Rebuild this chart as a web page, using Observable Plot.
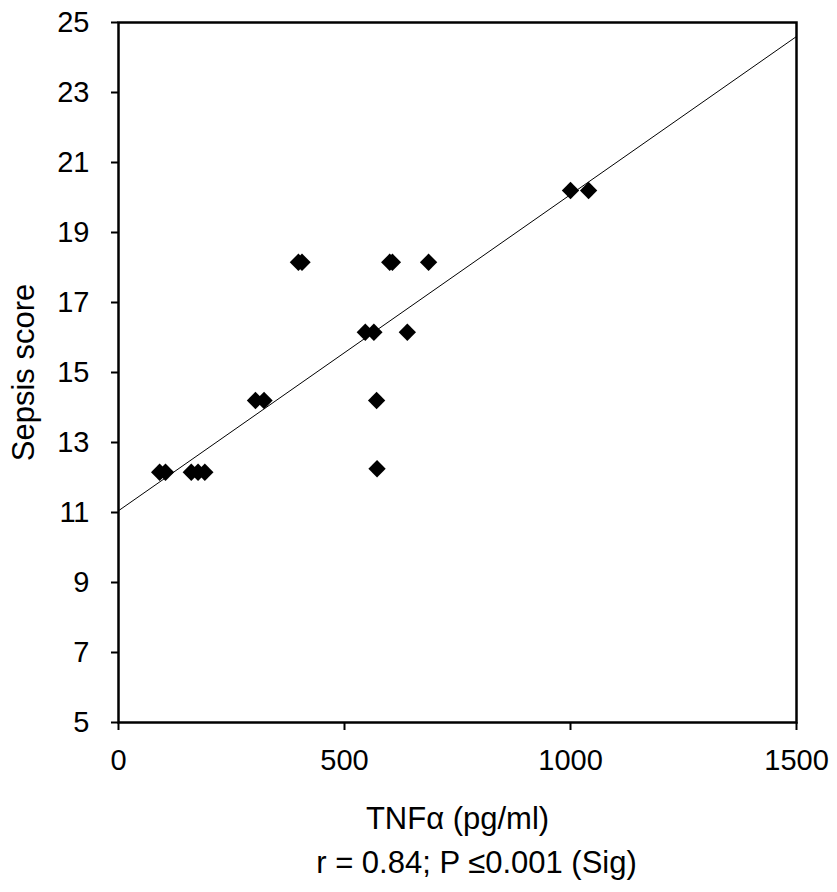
<!DOCTYPE html>
<html>
<head>
<meta charset="utf-8">
<script src="https://cdn.jsdelivr.net/npm/d3@7"></script>
<script src="https://cdn.jsdelivr.net/npm/@observablehq/plot@0.6"></script>
<style>
  html, body { margin: 0; padding: 0; background: #fff; }
</style>
</head>
<body>
<div id="chart"></div>
<script>
// Data
const tnf   = [91, 104, 161, 176, 191, 303, 322, 398, 406, 600, 606, 686, 546, 565, 639, 571, 572, 1000, 1040];
const score = [12.15, 12.15, 12.15, 12.15, 12.15, 14.2, 14.2, 18.15, 18.15, 18.15, 18.15, 18.15, 16.15, 16.15, 16.15, 14.2, 12.25, 20.2, 20.2];

// Regression line end points
const fitX = [0, 1500];
const fitY = [11.05, 24.6];

// Tick values
const xTicks = [0, 500, 1000, 1500];
const yTicks = [5, 7, 9, 11, 13, 15, 17, 19, 21, 23, 25];

const xLabel = "TNFα (pg/ml)";
const yLabel = "Sepsis score";
const caption = "r = 0.84; P ≤0.001 (Sig)";

const points = tnf.map((x, i) => ({x, y: score[i]}));
const fit = fitX.map((x, i) => ({x, y: fitY[i]}));

const chart = Plot.plot({
  width: 837,
  height: 892,
  marginLeft: 118,
  marginRight: 41,
  marginTop: 22,
  marginBottom: 170,
  x: {domain: [0, 1500]},
  y: {domain: [5, 25]},
  style: {fontFamily: "'Liberation Sans', Arial, Helvetica, sans-serif", color: "black", background: "white"},
  marks: [
    Plot.frame({stroke: "black", strokeWidth: 2.5}),
    Plot.axisX({ticks: xTicks, tickSize: 8, tickPadding: 19, strokeWidth: 2, fontSize: 29, label: null, tickFormat: d => String(d)}),
    Plot.axisY({ticks: yTicks, tickSize: 7, tickPadding: 22, strokeWidth: 2, fontSize: 29, label: null, tickFormat: d => String(d)}),
    Plot.line(fit, {x: "x", y: "y", stroke: "black", strokeWidth: 1}),
    Plot.dot(points, {x: "x", y: "y", symbol: "diamond2", r: 7.8, fill: "black", stroke: "none"}),
    Plot.text([xLabel], {frameAnchor: "bottom", textAnchor: "middle", lineAnchor: "middle", dy: 97, fontSize: 31}),
    Plot.text([caption], {frameAnchor: "bottom", textAnchor: "middle", lineAnchor: "middle", dy: 141, dx: 19, fontSize: 31}),
    Plot.text([yLabel], {frameAnchor: "left", textAnchor: "middle", lineAnchor: "middle", rotate: -90, dx: -94, fontSize: 31})
  ]
});
document.getElementById("chart").appendChild(chart);
</script>
</body>
</html>
